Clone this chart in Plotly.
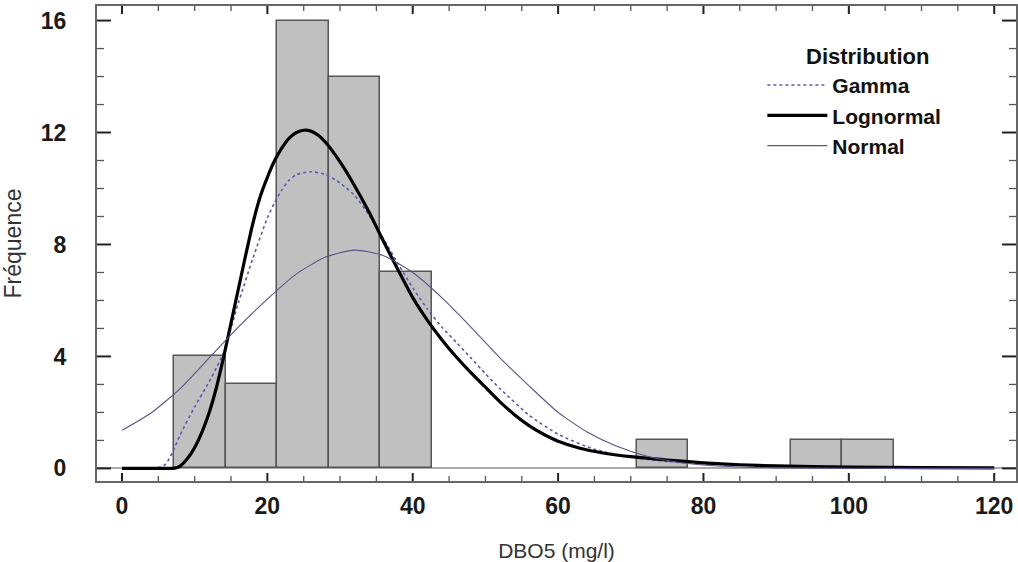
import plotly.graph_objects as go

# Histogram (DBO5, mg/l)
bin_left = [7.2, 14.28, 21.36, 28.44, 35.52, 70.8, 92.04, 99.12]
bin_width = 7.08
counts = [4, 3, 16, 14, 7, 1, 1, 1]

# Fitted curves
logn_x = [0, 5, 7, 7.5, 8, 9, 10, 11, 12, 13, 14, 15, 16, 17, 18, 19, 20, 21, 22, 23, 24, 25, 26, 27, 28, 30, 32, 34, 36, 38, 40, 42, 44, 46, 48, 50, 52, 54, 56, 58, 60, 63, 66, 70, 75, 80, 85, 90, 100, 110, 120]
logn_y = [0, 0, 0, 0.02, 0.08, 0.35, 0.75, 1.3, 2.0, 2.9, 4.0, 5.2, 6.4, 7.6, 8.75, 9.7, 10.4, 11.0, 11.45, 11.8, 12.0, 12.08, 12.05, 11.9, 11.65, 10.95, 10.1, 9.15, 8.1, 7.08, 6.1, 5.3, 4.6, 3.98, 3.42, 2.9, 2.38, 1.92, 1.53, 1.22, 0.97, 0.72, 0.56, 0.42, 0.3, 0.2, 0.13, 0.09, 0.05, 0.03, 0.02]

gamma_x = [0, 4, 5, 6, 7, 8, 10, 12, 13, 14, 16, 18, 20, 21, 22, 23, 24, 26, 28, 30, 32, 34, 36, 38, 40, 42, 44, 46, 48, 50, 52, 56, 60, 65, 70, 75, 80, 90, 100, 110, 120]
gamma_y = [0, 0, 0.03, 0.15, 0.6, 1.2, 2.2, 3.1, 3.6, 4.15, 5.9, 7.5, 8.95, 9.5, 9.95, 10.3, 10.5, 10.6, 10.5, 10.2, 9.75, 9.05, 8.2, 7.3, 6.45, 5.7, 5.05, 4.5, 3.95, 3.38, 2.85, 1.9, 1.22, 0.68, 0.4, 0.25, 0.16, 0.07, 0.03, 0.015, 0.01]

norm_x = [0, 4, 8, 12, 16, 20, 24, 28, 32, 36, 40, 44, 48, 52, 56, 60, 64, 68, 72, 76, 80, 85, 90, 100, 110, 120]
norm_y = [1.36, 1.98, 2.85, 3.95, 5.05, 6.05, 6.95, 7.55, 7.8, 7.6, 7.0, 6.1, 5.05, 3.95, 2.95, 2.0, 1.3, 0.8, 0.45, 0.24, 0.12, 0.05, 0.02, 0.004, 0, 0]

x_ticks = [0, 20, 40, 60, 80, 100, 120]
y_ticks = [0, 4, 8, 12, 16]
x_minor = [5, 10, 15, 25, 30, 35, 45, 50, 55, 65, 70, 75, 85, 90, 95, 105, 110, 115]
y_minor = [1, 2, 3, 5, 6, 7, 9, 10, 11, 13, 14, 15]

bar_centers = [b + bin_width / 2 for b in bin_left]

FONT = "Liberation Sans, Arial, sans-serif"
PLOT_W, PLOT_H = 919, 475

fig = go.Figure()
fig.add_trace(go.Bar(
    x=bar_centers, y=counts, width=bin_width,
    marker=dict(color="#c0c0c0", line=dict(color="#555555", width=1.5)),
    showlegend=False, hoverinfo="skip"))
fig.add_trace(go.Scatter(
    x=gamma_x, y=gamma_y, mode="lines", name="<b>Gamma</b>",
    line=dict(color="#5a5ab4", width=1.6, dash="dot", shape="spline", smoothing=0.6)))
fig.add_trace(go.Scatter(
    x=logn_x, y=logn_y, mode="lines", name="<b>Lognormal</b>",
    line=dict(color="#000000", width=3.2, shape="spline", smoothing=0.6)))
fig.add_trace(go.Scatter(
    x=norm_x, y=norm_y, mode="lines", name="<b>Normal</b>",
    line=dict(color="#55558a", width=1.1, shape="spline", smoothing=0.6)))

# Inward tick marks on all four sides (axis styling)
shapes = []
def xtick(v, length, width, color):
    h = length / PLOT_H
    for y0, y1 in ((0, h), (1 - h, 1)):
        shapes.append(dict(type="line", xref="x", yref="paper", x0=v, x1=v, y0=y0, y1=y1,
                           line=dict(color=color, width=width), layer="above"))
def ytick(v, length, width, color):
    w = length / PLOT_W
    for x0, x1 in ((0, w), (1 - w, 1)):
        shapes.append(dict(type="line", xref="paper", yref="y", x0=x0, x1=x1, y0=v, y1=v,
                           line=dict(color=color, width=width), layer="above"))
for v in x_ticks:
    xtick(v, 8, 2, "#222222")
for v in x_minor:
    xtick(v, 5, 1.3, "#555555")
for v in y_ticks:
    ytick(v, 14, 2, "#222222")
for v in y_minor:
    ytick(v, 7, 1.3, "#555555")

tickfont = dict(family=FONT, size=23, color="#1a1a1a")

fig.update_layout(
    width=1018, height=562,
    margin=dict(l=97, r=2, t=6, b=81, autoexpand=False),
    paper_bgcolor="white", plot_bgcolor="white",
    bargap=0,
    shapes=shapes,
    xaxis=dict(
        range=[-3.44, 123.0], tickmode="array", tickvals=x_ticks, ticktext=["<b>%d</b>" % v for v in x_ticks],
        ticks="",
        showline=True, linecolor="#666666", linewidth=2, mirror=True,
        showgrid=False, zeroline=False, automargin=False,
        tickfont=tickfont, ticklabelstandoff=3,
        title=dict(text="DBO5 (mg/l)", font=dict(family=FONT, size=21, color="#333333"), standoff=30),
    ),
    yaxis=dict(
        range=[-0.45, 16.52], tickmode="array", tickvals=y_ticks, ticktext=["<b>%d</b>" % v for v in y_ticks],
        ticks="",
        showline=True, linecolor="#666666", linewidth=2, mirror=True,
        showgrid=False, zeroline=True, zerolinecolor="#aaaaaa", zerolinewidth=1.5,
        automargin=False,
        tickfont=tickfont, ticklabelstandoff=24,
        title=dict(text="Fréquence", font=dict(family=FONT, size=23, color="#333333"), standoff=22),
    ),
    legend=dict(
        x=0.724, y=0.876, xanchor="left", yanchor="top",
        bgcolor="rgba(0,0,0,0)", borderwidth=0,
        font=dict(family=FONT, size=21, color="#111111"),
        itemwidth=60, tracegroupgap=0,
    ),
    annotations=[dict(
        text="<b>Distribution</b>", xref="paper", yref="paper",
        x=0.838, y=0.893, xanchor="center", yanchor="middle", showarrow=False,
        font=dict(family=FONT, size=22, color="#111111"))],
)

fig.write_html("out.html", config={"displayModeBar": False},
               post_script="document.body.style.margin='0';document.body.style.overflow='hidden';")
